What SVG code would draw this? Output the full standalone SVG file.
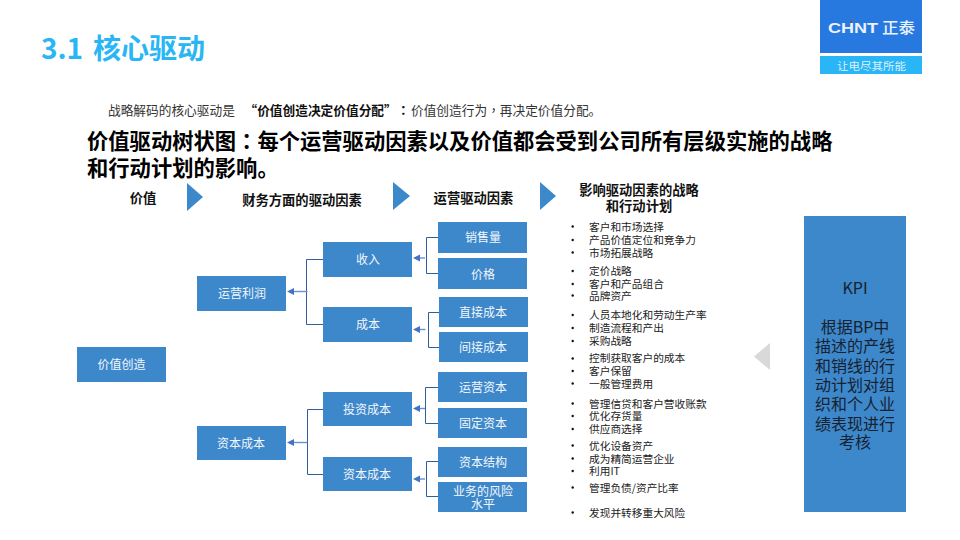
<svg xmlns="http://www.w3.org/2000/svg" width="960" height="540" viewBox="0 0 960 540">
<style>
text{font-family:"Noto Sans CJK SC","Liberation Sans",sans-serif}
.tc{font-family:"Noto Sans CJK TC","Noto Sans CJK SC",sans-serif}
.box{fill:#3D87CB}
.bt{fill:#F2F7FB;font-size:12px;text-anchor:middle;dominant-baseline:central}
.li{fill:#222;font-size:10.7px;dominant-baseline:central}
.dot{fill:#111}
.hd{fill:#111;font-size:13.3px;font-weight:700;text-anchor:middle;dominant-baseline:central}
.tri{fill:#3D87CB}
.kp{fill:#17222E;font-size:16px;text-anchor:middle;dominant-baseline:central}
.br{fill:none;stroke:#2F5F9E;stroke-width:1}
.ar{fill:none;stroke:#6D8FD0;stroke-width:1.4}
.ah{fill:#4472C4}
</style>
<rect width="960" height="540" fill="#fff"/>
<g id="title"><text y="59" font-size="28" font-weight="700" fill="#29B6F4"><tspan x="41">3.1</tspan><tspan x="93">核心驱动</tspan></text></g>
<g id="logo">
<rect x="820" y="0" width="102" height="53" fill="#2779E0"/>
<rect x="820" y="56" width="102" height="18" fill="#29B5F6"/>
<text x="828" y="33" font-size="15.500" font-weight="700" fill="#EAF2FC" style="font-family:'Liberation Sans',sans-serif" textLength="50" lengthAdjust="spacingAndGlyphs">CHNT</text>
<text x="882" y="33" font-size="15" font-weight="500" fill="#EAF2FC" textLength="33" lengthAdjust="spacingAndGlyphs">正泰</text>
<circle cx="851" cy="22" r="1" fill="#D8222A"/>
<text x="871.500" y="65" font-size="10" fill="#DDF1FD" text-anchor="middle" dominant-baseline="central" textLength="69" lengthAdjust="spacingAndGlyphs">让电尽其所能</text>
</g>
<g id="intro"><text y="109" font-size="12.700" fill="#333" dominant-baseline="central"><tspan x="108">战略解码的核心驱动是</tspan><tspan x="244.500" font-weight="700" fill="#111">“价值创造决定价值分配”</tspan><tspan class="tc" x="397" font-weight="700" fill="#111">：</tspan><tspan x="411">价值创造行为</tspan><tspan class="tc">，</tspan><tspan>再决定价值分配。</tspan></text></g>
<g id="heading" font-size="21.300" font-weight="700" fill="#000">
<text y="149"><tspan x="87">价值驱动树状图</tspan><tspan class="tc">：</tspan><tspan>每个运营驱动因素以及价值都会受到公司所有层级实施的战略</tspan><tspan x="87" y="175.500">和行动计划的影响。</tspan></text>
</g>
<g id="headers">
<text class="hd" x="143" y="197">价值</text>
<polygon class="tri" points="187,183 203,197 187,211"/>
<text class="hd" x="302" y="199">财务方面的驱动因素</text>
<polygon class="tri" points="393,182 410,196 393,210"/>
<text class="hd" x="473.500" y="197">运营驱动因素</text>
<polygon class="tri" points="540,182 556,196 540,210"/>
<text class="hd"><tspan x="639" y="188.500">影响驱动因素的战略</tspan><tspan x="639" y="205">和行动计划</tspan></text>
</g>
<g id="connectors">
<path class="br" d="M438,237.500 H426.500 V273.500 H438"/>
<path class="br" d="M439,312.500 H428.500 V347.500 H439"/>
<path class="br" d="M438,387.500 H425.500 V423.500 H438"/>
<path class="br" d="M438,461.500 H426.500 V496.500 H438"/>
<path class="br" d="M323,259.500 H306.500 V324.500 H323"/>
<path class="br" d="M323,409.500 H307.500 V474.500 H323"/>
<path class="ar" d="M425,258 H418"/><polygon class="ah" points="413,258 420,254.500 420,261.500"/>
<path class="ar" d="M425.500,329.500 H418"/><polygon class="ah" points="413,329.500 420,326 420,333"/>
<path class="ar" d="M425,408.500 H418"/><polygon class="ah" points="413,408.500 420,405 420,412"/>
<path class="ar" d="M425,479 H418"/><polygon class="ah" points="413,479 420,475.500 420,482.500"/>
<path class="ar" d="M307.500,291.500 H292"/><polygon class="ah" points="287,291.500 294,288 294,295"/>
<path class="ar" d="M307.500,442.500 H292"/><polygon class="ah" points="287,442.500 294,439 294,446"/>
</g>
<g id="n-value"><rect class="box" x="77" y="347" width="89" height="35"/><text class="bt" x="121.500" y="363">价值创造</text></g>
<g id="n-opprofit"><rect class="box" x="197" y="276" width="89" height="35"/><text class="bt" x="242" y="292">运营利润</text></g>
<g id="n-capcost"><rect class="box" x="197" y="426" width="89" height="34"/><text class="bt" x="241" y="442">资本成本</text></g>
<g id="n-rev"><rect class="box" x="323" y="242" width="89" height="35"/><text class="bt" x="368" y="258">收入</text></g>
<g id="n-cost"><rect class="box" x="323" y="307" width="89" height="35"/><text class="bt" x="368" y="323">成本</text></g>
<g id="n-inv"><rect class="box" x="323" y="392" width="89" height="34"/><text class="bt" x="367" y="408">投资成本</text></g>
<g id="n-cap2"><rect class="box" x="323" y="457" width="89" height="34"/><text class="bt" x="367" y="473">资本成本</text></g>
<g id="n-vol"><rect class="box" x="438" y="222" width="89" height="31"/><text class="bt" x="483" y="236">销售量</text></g>
<g id="n-price"><rect class="box" x="438" y="258" width="89" height="31"/><text class="bt" x="483" y="273">价格</text></g>
<g id="n-direct"><rect class="box" x="439" y="297" width="89" height="30"/><text class="bt" x="483" y="311">直接成本</text></g>
<g id="n-indirect"><rect class="box" x="439" y="332" width="89" height="30"/><text class="bt" x="483" y="346">间接成本</text></g>
<g id="n-opcap"><rect class="box" x="438" y="372" width="89" height="30"/><text class="bt" x="483" y="386">运营资本</text></g>
<g id="n-fixed"><rect class="box" x="438" y="408" width="89" height="30"/><text class="bt" x="483" y="422">固定资本</text></g>
<g id="n-struct"><rect class="box" x="438" y="447" width="89" height="30"/><text class="bt" x="483" y="461">资本结构</text></g>
<g id="n-risk"><rect class="box" x="438" y="482" width="89" height="30"/><text class="bt"><tspan x="483" y="489.500">业务的风险</tspan><tspan x="483" y="503">水平</tspan></text></g>
<g id="list">
<g class="dot"><circle cx="572.700" cy="226.500" r="1.200"/><circle cx="572.700" cy="240" r="1.200"/><circle cx="572.700" cy="252.500" r="1.200"/><circle cx="572.700" cy="271" r="1.200"/><circle cx="572.700" cy="284" r="1.200"/><circle cx="572.700" cy="295.500" r="1.200"/><circle cx="572.700" cy="315" r="1.200"/><circle cx="572.700" cy="328" r="1.200"/><circle cx="572.700" cy="341" r="1.200"/><circle cx="572.700" cy="358.500" r="1.200"/><circle cx="572.700" cy="371" r="1.200"/><circle cx="572.700" cy="383.500" r="1.200"/><circle cx="572.700" cy="403.500" r="1.200"/><circle cx="572.700" cy="416" r="1.200"/><circle cx="572.700" cy="429" r="1.200"/><circle cx="572.700" cy="445.500" r="1.200"/><circle cx="572.700" cy="458.500" r="1.200"/><circle cx="572.700" cy="471" r="1.200"/><circle cx="572.700" cy="487.500" r="1.200"/><circle cx="572.700" cy="512.500" r="1.200"/></g>
<text class="li"><tspan x="589" y="226">客户和市场选择</tspan><tspan x="589" y="239">产品价值定位和竞争力</tspan><tspan x="589" y="252">市场拓展战略</tspan><tspan x="589" y="270">定价战略</tspan><tspan x="589" y="283">客户和产品组合</tspan><tspan x="589" y="295">品牌资产</tspan><tspan x="589" y="314">人员本地化和劳动生产率</tspan><tspan x="589" y="327">制造流程和产出</tspan><tspan x="589" y="340">采购战略</tspan><tspan x="589" y="357">控制获取客户的成本</tspan><tspan x="589" y="370">客户保留</tspan><tspan x="589" y="383">一般管理费用</tspan><tspan x="589" y="403">管理信贷和客户营收账款</tspan><tspan x="589" y="415">优化存货量</tspan><tspan x="589" y="428">供应商选择</tspan><tspan x="589" y="445">优化设备资产</tspan><tspan x="589" y="458">成为精简运营企业</tspan><tspan x="589" y="470">利用IT</tspan><tspan x="589" y="487">管理负债/资产比率</tspan><tspan x="589" y="512">发现并转移重大风险</tspan></text>
</g>
<polygon id="back-arrow" points="770,343 770,370 754,356.500" fill="#D9D9D9"/>
<g id="n-kpi"><rect class="box" x="804" y="216" width="102" height="296"/>
<text class="kp"><tspan x="855" y="287">KPI</tspan><tspan x="855" y="325.500">根据BP中</tspan><tspan x="855" y="345">描述的产线</tspan><tspan x="855" y="364.500">和销线的行</tspan><tspan x="855" y="384">动计划对组</tspan><tspan x="855" y="403">织和个人业</tspan><tspan x="855" y="422.500">绩表现进行</tspan><tspan x="855" y="441">考核</tspan></text>
</g>
</svg>
